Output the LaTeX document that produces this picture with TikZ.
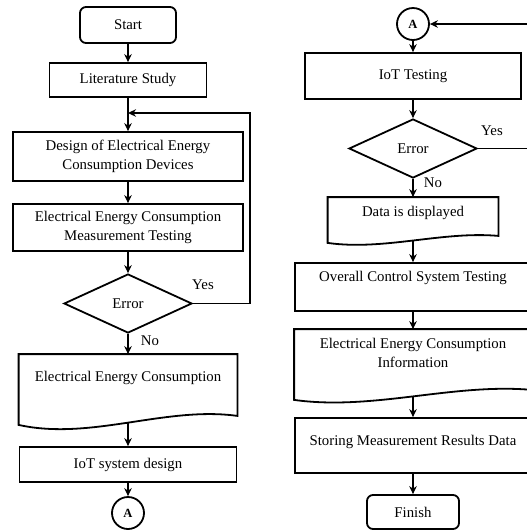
\documentclass[tikz,border=0pt]{standalone}
\usepackage{fontspec}
\setmainfont{Liberation Serif}
\usetikzlibrary{shapes.geometric,arrows.meta}
\begin{document}
\begin{tikzpicture}[x=1pt,y=-1pt,line width=1.8pt,
  every node/.style={font=\fontsize{14.8}{19}\selectfont,inner sep=0pt,align=center},
  arr/.style={line width=1.6pt,-{Stealth[length=8pt,width=7.5pt]}},
  rbox/.style={draw,rectangle},
  term/.style={draw,rectangle,rounded corners=6pt},
  dec/.style={draw,diamond,minimum width=128pt,minimum height=59pt},
  circ/.style={draw,circle,minimum size=32pt,font=\bfseries\fontsize{12.5}{12.5}\selectfont},
  blank/.style={rectangle,draw=none}]
\useasboundingbox (0,0) rectangle (527,531);
\clip (0,0) rectangle (527,531);
% ---------- left column ----------
\node[term,minimum width=96pt,minimum height=36pt] (start) at (128,25) {Start};
\node[rbox,minimum width=157pt,minimum height=34pt] (lit) at (128,80) {Literature Study};
\node[rbox,minimum width=230pt,minimum height=49pt] (des) at (128,156.5) {Design of Electrical Energy\\Consumption Devices};
\node[rbox,minimum width=230pt,minimum height=47pt] (meas) at (128,227.5) {Electrical Energy Consumption\\Measurement Testing};
\node[dec] (err1) at (128,303.5) {Error};
\node[blank,minimum width=217pt,minimum height=69pt] (eec) at (128,389.5) {};
\draw (eec.south west) -- (eec.north west) -- (eec.north east) -- ([yshift=9pt]eec.south east)
  .. controls +(-72,-10) and +(72,16) .. (eec.south west) -- cycle;
\node (eect) at (128,378) {Electrical Energy Consumption};
\coordinate (eecb) at (128,422);
\node[rbox,minimum width=217pt,minimum height=35pt] (iotd) at (128,464.5) {IoT system design};
\node[circ] (a1) at (128,513) {A};
\coordinate (fb) at (128,113);
\node (y1) at (203,285) {Yes};
\node (n1) at (150,341) {No};
\draw[arr] (start) -- (lit);
\draw[arr] (lit) -- (des);
\draw[arr] (des) -- (meas);
\draw[arr] (meas) -- (err1);
\draw[arr] (err1) -- (eec.north);
\draw[arr] (eecb) -- (iotd);
\draw[arr] (iotd) -- (a1);
\draw[arr] (err1.east) -- ++(57,0) |- (fb);
% ---------- right column ----------
\node[circ] (a2) at (413,24) {A};
\node[rbox,minimum width=216pt,minimum height=46pt] (iott) at (413,76) {IoT Testing};
\node[dec] (err2) at (413,148.5) {Error};
\node[blank,minimum width=169pt,minimum height=44pt] (dat) at (413,220) {};
\draw (dat.south west) -- (dat.north west) -- (dat.north east) -- ([yshift=7pt]dat.south east)
  .. controls +(-56,-5) and +(56,8) .. (dat.south west) -- cycle;
\node (datt) at (413,213) {Data is displayed};
\coordinate (datb) at (413,240);
\node[rbox,minimum width=236pt,minimum height=48pt] (ov) at (413,287) {};
\node (ovt) at (413,278) {Overall Control System Testing};
\node[blank,minimum width=236pt,minimum height=69pt] (inf) at (413,364.5) {};
\draw (inf.south west) -- (inf.north west) -- (inf.north east) -- ([yshift=10pt]inf.south east)
  .. controls +(-79,-7) and +(79,11) .. (inf.south west) -- cycle;
\node (inft) at (413,353) {Electrical Energy Consumption\\Information};
\coordinate (infb) at (413,395.5);
\node[rbox,minimum width=236pt,minimum height=55pt] (sto) at (413,445.5) {};
\node (stot) at (413,442) {Storing Measurement Results Data};
\node[term,minimum width=92pt,minimum height=34pt] (fin) at (413,512) {Finish};
\node (y2) at (492,131) {Yes};
\node (n2) at (433,183) {No};
\draw[arr] (err2.east) -- ++(60,0) |- (a2.east);
\draw[arr] (a2) -- (iott);
\draw[arr] (iott) -- (err2);
\draw[arr] (err2) -- (dat.north);
\draw[arr] (datb) -- (ov);
\draw[arr] (ov) -- (inf.north);
\draw[arr] (infb) -- (sto);
\draw[arr] (sto) -- (fin);
\end{tikzpicture}
\end{document}
